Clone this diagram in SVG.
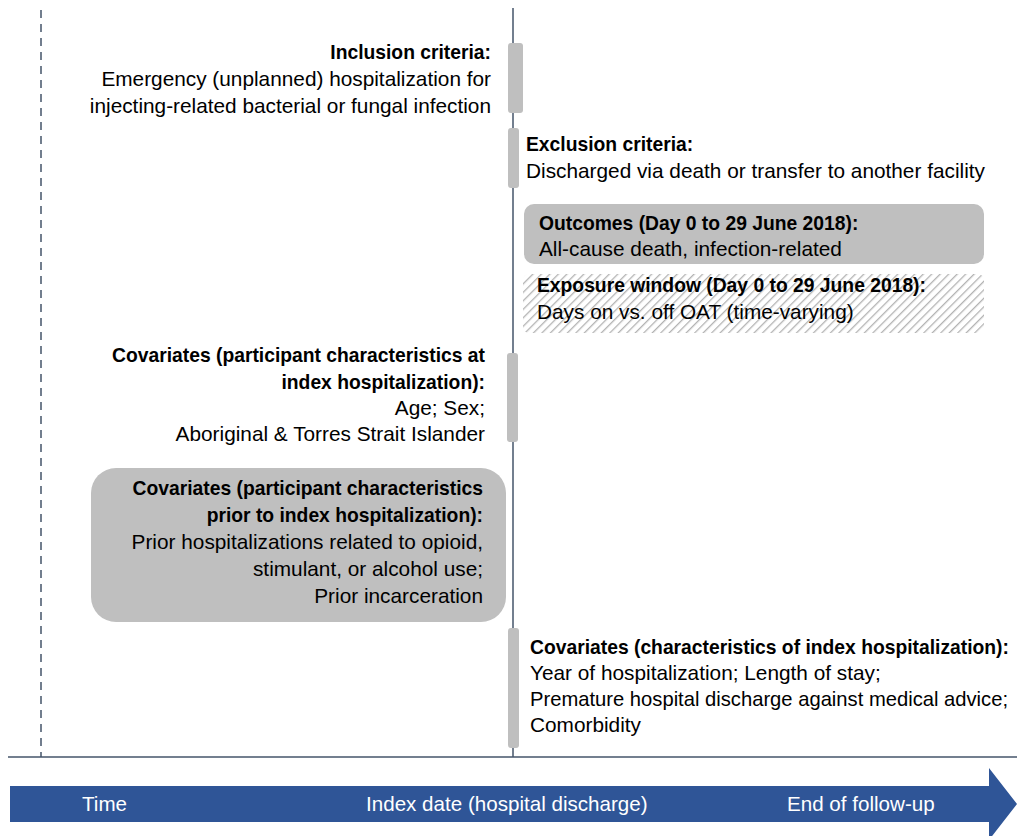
<svg xmlns="http://www.w3.org/2000/svg" width="1017" height="836" viewBox="0 0 1017 836">
<style>
text{font-family:"Liberation Sans",Arial,sans-serif;font-size:20.8px;fill:#000}
.b{font-weight:bold;font-size:19.3px}
.r{text-anchor:end}
.w{fill:#fff;font-size:20.6px}
.bar{fill:#BFBFBF}
.ax{stroke:#44546A;stroke-width:1.5;fill:none}
</style>
<defs>
<pattern id="hatch" width="6" height="6" patternUnits="userSpaceOnUse" patternTransform="rotate(45)">
<rect width="6" height="6" fill="#fff"/>
<line x1="0" y1="0" x2="0" y2="6" stroke="#B3B3B3" stroke-width="2.6"/>
</pattern>
</defs>
<g id="connectors">
<line class="ax" x1="41" y1="10" x2="41" y2="757" stroke-dasharray="8,6"/>
<line class="ax" x1="513" y1="8" x2="513" y2="757"/>
<line class="ax" x1="8" y1="757" x2="1017" y2="757"/>
</g>
<g id="timeline">
<polygon points="10,786 989,786 989,768 1017,804 989,840 989,822 10,822" fill="#2F5597"/>
<text class="w" x="82" y="811">Time</text>
<text class="w" x="366" y="811">Index date (hospital discharge)</text>
<text class="w" x="787" y="811">End of follow-up</text>
</g>
<g id="inclusion">
<rect class="bar" x="508" y="43" width="15" height="70" rx="3"/>
<text class="b r" x="491" y="59">Inclusion criteria:</text>
<text class="r" x="491" y="86">Emergency (unplanned) hospitalization for</text>
<text class="r" x="491" y="113">injecting-related bacterial or fungal infection</text>
</g>
<g id="exclusion">
<rect class="bar" x="508" y="128" width="11" height="60" rx="3"/>
<text class="b" x="526" y="151">Exclusion criteria:</text>
<text x="526" y="178">Discharged via death or transfer to another facility</text>
</g>
<g id="outcomes">
<rect class="bar" x="524" y="204" width="460" height="60" rx="10"/>
<text class="b" x="539" y="230">Outcomes (Day 0 to 29 June 2018):</text>
<text x="539" y="256">All-cause death, infection-related</text>
</g>
<g id="exposure">
<rect x="523" y="274" width="461" height="59" rx="6" fill="url(#hatch)"/>
<text class="b" x="537" y="292">Exposure window (Day 0 to 29 June 2018):</text>
<text x="537" y="319">Days on vs. off OAT (time-varying)</text>
</g>
<g id="cov-index">
<rect class="bar" x="507" y="353" width="11" height="89" rx="3"/>
<text class="b r" x="485" y="362">Covariates (participant characteristics at</text>
<text class="b r" x="485" y="389">index hospitalization):</text>
<text class="r" x="485" y="415">Age; Sex;</text>
<text class="r" x="485" y="441">Aboriginal &amp; Torres Strait Islander</text>
</g>
<g id="cov-prior">
<rect class="bar" x="91" y="468" width="415" height="154" rx="25"/>
<text class="b r" x="483" y="495">Covariates (participant characteristics</text>
<text class="b r" x="483" y="522">prior to index hospitalization):</text>
<text class="r" x="483" y="549">Prior hospitalizations related to opioid,</text>
<text class="r" x="483" y="576">stimulant, or alcohol use;</text>
<text class="r" x="483" y="603">Prior incarceration</text>
</g>
<g id="cov-hosp">
<rect class="bar" x="508" y="628" width="11" height="120" rx="3"/>
<text class="b" x="530" y="654">Covariates (characteristics of index hospitalization):</text>
<text x="530" y="680">Year of hospitalization; Length of stay;</text>
<text x="530" y="706" style="font-size:20.2px">Premature hospital discharge against medical advice;</text>
<text x="530" y="732">Comorbidity</text>
</g>
</svg>
